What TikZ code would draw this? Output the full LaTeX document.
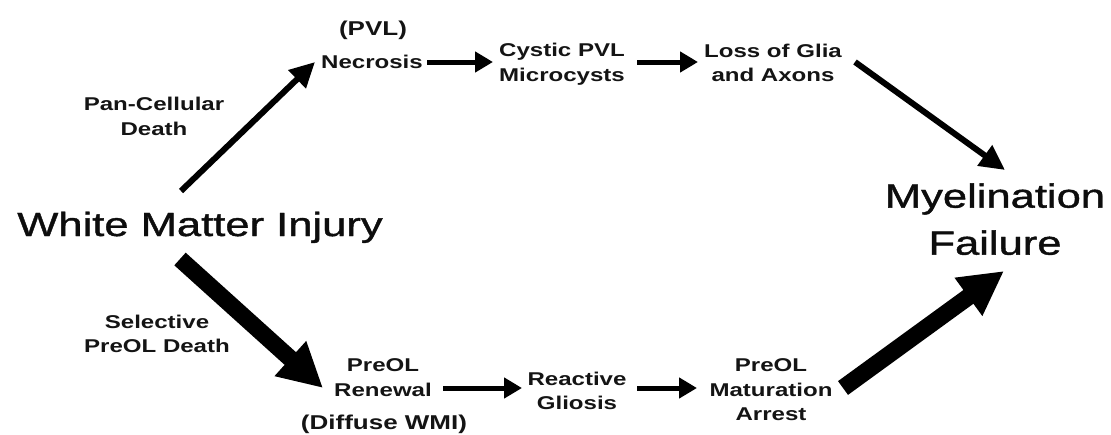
\documentclass[tikz,border=0pt]{standalone}
\usepackage{fontspec}
\setmainfont{Liberation Sans}
\newfontfamily\labelfont{Liberation Sans}[FakeStretch=1.3]
\newfontfamily\titlefont{Liberation Sans}[FakeStretch=1.3,FakeBold=1.2]
\usetikzlibrary{arrows.meta}

\tikzset{
  lbl/.style={font=\labelfont\bfseries\fontsize{18.5}{24.5}\selectfont,
              align=center, inner sep=0pt, text=black!92},
  paren/.style={font=\labelfont\bfseries\fontsize{20}{24}\selectfont,
                inner sep=0pt, text=black!92},
  big/.style={font=\titlefont\fontsize{33.5}{47}\selectfont,
              align=center, inner sep=0pt, text=black!95},
  thinarrow/.style={line width=5pt, -{Triangle[length=18pt,width=20pt]}},
  midarrow/.style={line width=6pt, -{Triangle[length=25pt,width=24pt]}},
  thickarrow/.style={line width=17pt, -{Triangle[length=44pt,width=44pt]}}
}

\begin{document}
\begin{tikzpicture}[x=1pt,y=-1pt]
  \fill[white] (0,0) rectangle (1111,434);
  \useasboundingbox (0,0) rectangle (1111,434);

  % main states
  \node[big, anchor=base] (wmi) at (200,236) {White Matter Injury};
  \node[big] (myel) at (995,219.2) {Myelination\\Failure};

  % upper path (PVL)
  \node[paren, anchor=base] (pvl) at (373,35) {(PVL)};
  \node[lbl, anchor=base] (necro) at (372,68) {Necrosis};
  \node[lbl] (cystic) at (562,64.2) {Cystic PVL\\Microcysts};
  \node[lbl] (loss) at (773,62.8) {Loss of Glia\\and Axons};
  \node[lbl] (pan) at (154,116.3) {Pan-Cellular\\Death};

  % lower path (diffuse WMI)
  \node[lbl] (sel) at (157,333.8) {Selective\\PreOL Death};
  \node[lbl] (renew) at (383,377.8) {PreOL\\Renewal};
  \node[paren, anchor=base] (diffuse) at (384,429) {(Diffuse WMI)};
  \node[lbl] (gliosis) at (577,390.8) {Reactive\\Gliosis};
  \node[lbl] (arrest) at (771,389.8) {PreOL\\Maturation\\Arrest};

  % arrow end points
  \coordinate (panS) at (181,191);
  \coordinate (panE) at (315,62);
  \coordinate (necroR) at (427,62);
  \coordinate (cysticL) at (493,62);
  \coordinate (cysticR) at (637,62);
  \coordinate (lossL) at (698,62);
  \coordinate (lossS) at (855,62);
  \coordinate (lossE) at (1005,170);
  \coordinate (selS) at (180,259);
  \coordinate (selE) at (323,388);
  \coordinate (renewR) at (443,388);
  \coordinate (gliosisL) at (522,388);
  \coordinate (gliosisR) at (637,388);
  \coordinate (arrestL) at (697,388);
  \coordinate (arrS) at (843,388);
  \coordinate (arrE) at (1004,271);

  % connectors
  \draw[midarrow] (panS) -- (panE);
  \draw[thinarrow] (necroR) -- (cysticL);
  \draw[thinarrow] (cysticR) -- (lossL);
  \draw[midarrow] (lossS) -- (lossE);

  \draw[thickarrow] (selS) -- (selE);
  \draw[thinarrow] (renewR) -- (gliosisL);
  \draw[thinarrow] (gliosisR) -- (arrestL);
  \draw[thickarrow] (arrS) -- (arrE);
\end{tikzpicture}
\end{document}
